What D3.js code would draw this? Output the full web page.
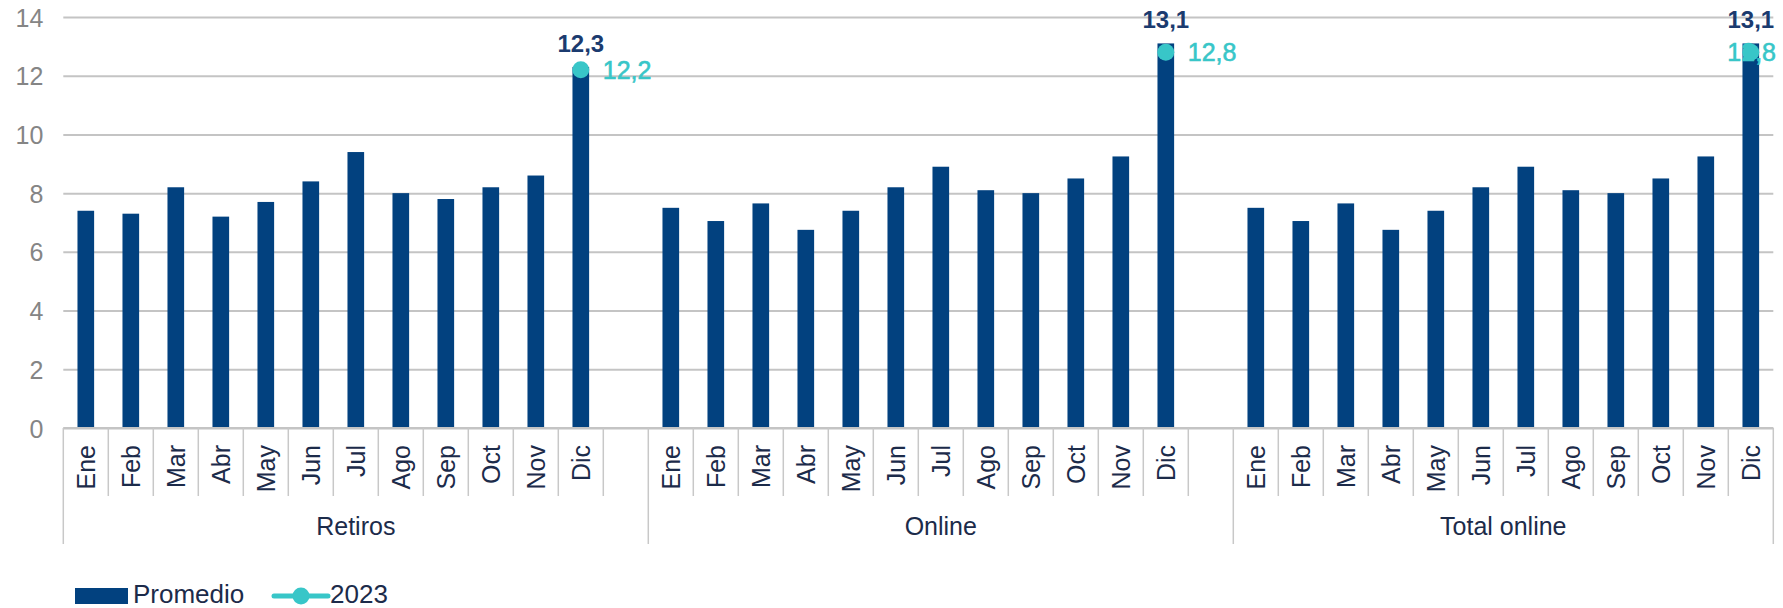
<!DOCTYPE html>
<html>
<head>
<meta charset="utf-8">
<script src="https://d3js.org/d3.v7.min.js"></script>
<style>
  body { margin: 0; background: #fff; }
  text { font-family: "Liberation Sans", Arial, sans-serif; }
</style>
</head>
<body>
<svg id="chart" width="1783" height="608"></svg>
<script>
// category structure
const months = ["Ene","Feb","Mar","Abr","May","Jun","Jul","Ago","Sep","Oct","Nov","Dic"];
const groups = ["Retiros","Online","Total online"];
const blankSlotAfter = [true, true, false];   // empty category at end of group

// Promedio (bars)
const promedioRetiros     = [7.4, 7.3, 8.2, 7.2, 7.7, 8.4, 9.4, 8.0, 7.8, 8.2, 8.6, 12.3];
const promedioOnline      = [7.5, 7.05, 7.65, 6.75, 7.4, 8.2, 8.9, 8.1, 8.0, 8.5, 9.25, 13.1];
const promedioTotalOnline = [7.5, 7.05, 7.65, 6.75, 7.4, 8.2, 8.9, 8.1, 8.0, 8.5, 9.25, 13.1];

// 2023 (points, only December available)
const serie2023Retiros     = [null,null,null,null,null,null,null,null,null,null,null,12.2];
const serie2023Online      = [null,null,null,null,null,null,null,null,null,null,null,12.8];
const serie2023TotalOnline = [null,null,null,null,null,null,null,null,null,null,null,12.8];

const yTicks = [0, 2, 4, 6, 8, 10, 12, 14];

const promedio = [promedioRetiros, promedioOnline, promedioTotalOnline];
const serie2023 = [serie2023Retiros, serie2023Online, serie2023TotalOnline];

// flatten into slots
const slots = [];
const groupSpans = [];
groups.forEach((g, gi) => {
  const start = slots.length;
  months.forEach((m, mi) => {
    slots.push({group: g, month: m, prom: promedio[gi][mi], v23: serie2023[gi][mi], last: mi === 11, lastGroup: gi === groups.length - 1});
  });
  if (blankSlotAfter[gi]) slots.push({group: g, month: "", prom: null, v23: null});
  groupSpans.push({name: g, start: start, end: slots.length});
});
slots.forEach((d, i) => d.i = i);

const svg = d3.select("#chart");
const plotLeft = 63.3, plotRight = 1773.3, plotTop = 17, plotBottom = 428;

const barColor = "#02417F";
const dotColor = "#38C6C8";
const labelDark = "#1B3B6F";
const textColor = "#1C2B4A";

const x = d3.scaleBand()
  .domain(slots.map(d => d.i))
  .range([plotLeft, plotRight])
  .paddingInner(0.63)
  .paddingOuter(0.315);
const step = x.step();
const slotLeft = i => plotLeft + i * step;

const y = d3.scaleLinear().domain([0, 14]).range([plotBottom, plotTop]);

// gridlines + y labels
const yAxis = d3.axisLeft(y).tickValues(yTicks).tickSize(-(plotRight - plotLeft)).tickFormat(d3.format("d"));
const gy = svg.append("g").attr("transform", `translate(${plotLeft},0)`).call(yAxis);
gy.select(".domain").remove();
gy.selectAll(".tick line").attr("stroke", "#C4C4C4").attr("stroke-width", 2);
gy.selectAll(".tick text")
  .attr("x", -20).attr("dy", "0.36em")
  .attr("fill", "#858585").style("font-size", "25px").style("font-family", "Liberation Sans, Arial, sans-serif");

// bars
svg.append("g").selectAll("rect")
  .data(slots.filter(d => d.prom != null))
  .join("rect")
  .attr("x", d => x(d.i))
  .attr("width", x.bandwidth())
  .attr("y", d => y(d.prom))
  .attr("height", d => y(0) - y(d.prom))
  .attr("fill", barColor);

// category axis
const axisG = svg.append("g");
axisG.append("line")
  .attr("x1", plotLeft).attr("x2", plotRight).attr("y1", plotBottom).attr("y2", plotBottom)
  .attr("stroke", "#C4C4C4").attr("stroke-width", 2);

const boundaries = d3.range(slots.length + 1);
const groupEdges = new Set([0].concat(groupSpans.map(g => g.end)));
axisG.selectAll("line.sep")
  .data(boundaries)
  .join("line")
  .attr("class", "sep")
  .attr("x1", i => slotLeft(i)).attr("x2", i => slotLeft(i))
  .attr("y1", plotBottom).attr("y2", i => groupEdges.has(i) ? 544 : 496)
  .attr("stroke", "#C8C8C8").attr("stroke-width", 1.5);

axisG.selectAll("text.month")
  .data(slots.filter(d => d.month))
  .join("text")
  .attr("class", "month")
  .attr("transform", d => `translate(${x(d.i) + x.bandwidth() / 2},445) rotate(-90)`)
  .attr("text-anchor", "end")
  .attr("dy", "0.36em")
  .attr("fill", textColor)
  .style("font-size", "25px")
  .text(d => d.month);

axisG.selectAll("text.group")
  .data(groupSpans)
  .join("text")
  .attr("class", "group")
  .attr("x", d => (slotLeft(d.start) + slotLeft(d.end)) / 2)
  .attr("y", 535)
  .attr("text-anchor", "middle")
  .attr("fill", textColor)
  .style("font-size", "25px")
  .text(d => d.name);

// bar value labels (only last month)
const fmt = v => d3.format(".1f")(v).replace(".", ",");
svg.append("g").selectAll("text")
  .data(slots.filter(d => d.last))
  .join("text")
  .attr("x", d => x(d.i) + x.bandwidth() / 2)
  .attr("y", d => y(d.prom) - 15)
  .attr("text-anchor", "middle")
  .attr("fill", labelDark)
  .style("font-size", "24px")
  .style("font-weight", "bold")
  .text(d => fmt(d.prom));

// 2023 points
const pts = slots.filter(d => d.v23 != null);
svg.append("g").selectAll("circle")
  .data(pts)
  .join("circle")
  .attr("cx", d => x(d.i) + x.bandwidth() / 2)
  .attr("cy", d => y(d.v23))
  .attr("r", 8.5)
  .attr("fill", dotColor);

svg.append("g").selectAll("text")
  .data(pts)
  .join("text")
  .attr("x", d => d.lastGroup ? 1776 : x(d.i) + x.bandwidth() / 2 + 22)
  .attr("y", d => y(d.v23) + 9)
  .attr("text-anchor", d => d.lastGroup ? "end" : "start")
  .attr("fill", dotColor)
  .attr("stroke", dotColor).attr("stroke-width", 0.6)
  .style("font-size", "25px")
  .text(d => fmt(d.v23));

// legend
const lg = svg.append("g");
lg.append("rect").attr("x", 75).attr("y", 588).attr("width", 53).attr("height", 16).attr("fill", barColor);
lg.append("text").attr("x", 133).attr("y", 603).attr("fill", textColor).style("font-size", "26px").text("Promedio");
lg.append("line").attr("x1", 274).attr("x2", 328).attr("y1", 596).attr("y2", 596)
  .attr("stroke", dotColor).attr("stroke-width", 5).attr("stroke-linecap", "round");
lg.append("circle").attr("cx", 301).attr("cy", 596).attr("r", 8.5).attr("fill", dotColor);
lg.append("text").attr("x", 330).attr("y", 603).attr("fill", textColor).style("font-size", "26px").text("2023");
</script>
</body>
</html>
